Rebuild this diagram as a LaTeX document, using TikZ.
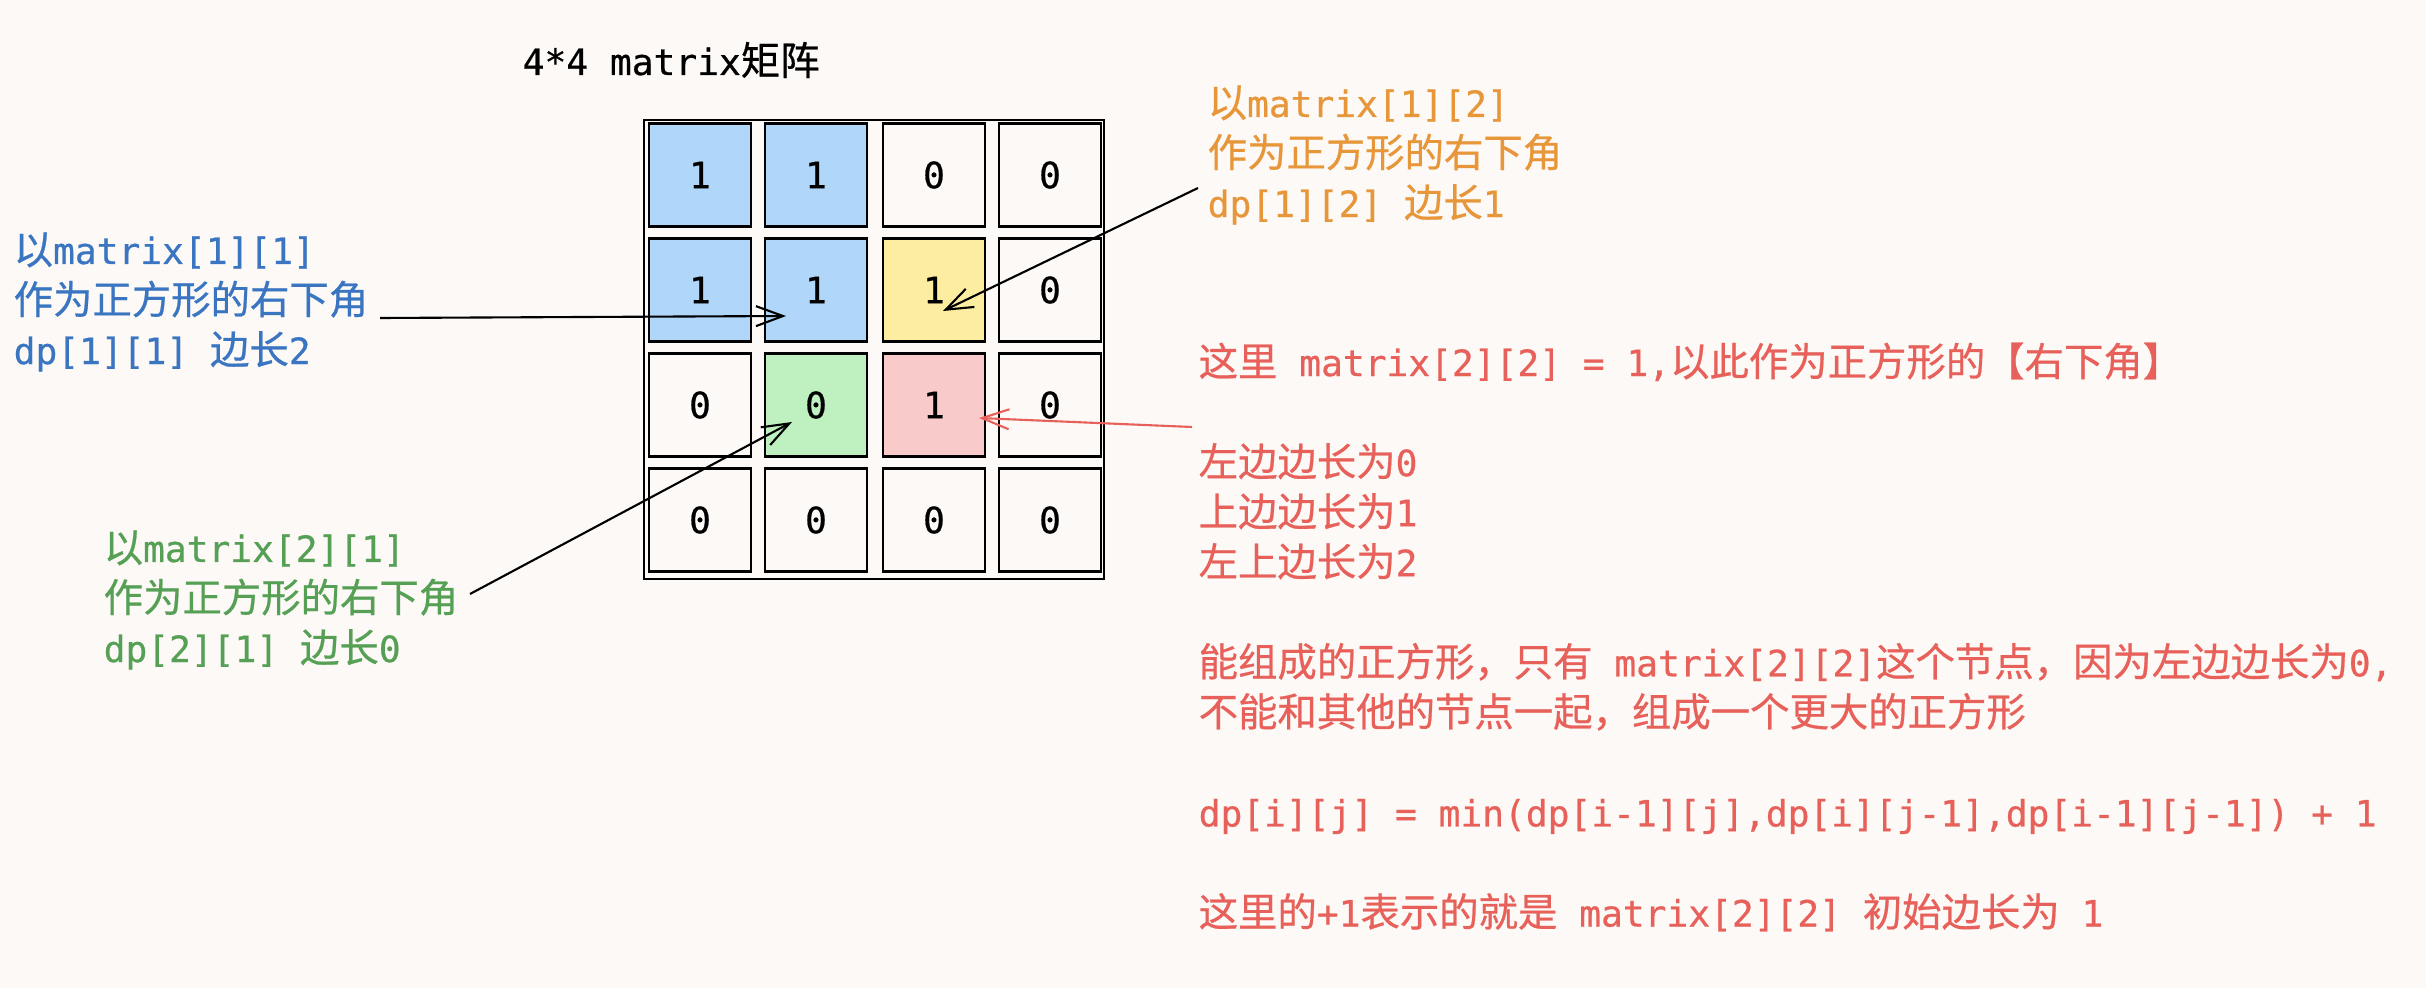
\documentclass[tikz,border=0pt]{standalone}
\usepackage{fontspec}
\setmainfont[FakeBold=0.6]{Noto Sans CJK SC}
\setmonofont[Scale=0.92,FakeBold=0.6]{DejaVu Sans Mono}
\usepackage{tikz}
\usetikzlibrary{arrows.meta}

\definecolor{paper}{RGB}{252,249,246}
\definecolor{cellblue}{RGB}{176,214,250}
\definecolor{cellyellow}{RGB}{253,237,160}
\definecolor{cellgreen}{RGB}{190,240,192}
\definecolor{cellred}{RGB}{248,202,202}
\definecolor{noteblue}{RGB}{58,117,194}
\definecolor{notegreen}{RGB}{85,160,85}
\definecolor{noteorange}{RGB}{232,150,58}
\definecolor{notered}{RGB}{232,96,90}

\newcommand{\mono}[1]{\texttt{#1}}

\begin{document}
\begin{tikzpicture}[x=0.01cm,y=-0.01cm,
  >={Straight Barb[length=0.27cm,width=0.2cm]},
  every node/.style={font=\fontsize{11.2pt}{14.23pt}\selectfont},
  cell/.style={draw,line width=0.6pt,minimum width=1.02cm,minimum height=1.03cm,inner sep=0pt,
    font=\fontsize{11.2pt}{14.23pt}\selectfont\ttfamily},
  note/.style={anchor=west,align=left,inner sep=0pt},
  link/.style={->,line width=0.6pt}]
  \fill[paper] (0,0) rectangle (2426,988);

  \node[note] (title) at (522,60) {\mono{4*4 matrix}矩阵};
  \node[draw,line width=0.6pt,minimum width=4.6cm,minimum height=4.59cm,inner sep=0pt] (grid) at (874,349.5) {};

  % row 1
  \node[cell,fill=cellblue] (c11) at (700,175) {1};
  \node[cell,fill=cellblue] (c12) at (816,175) {1};
  \node[cell] (c13) at (934,175) {0};
  \node[cell] (c14) at (1050,175) {0};
  % row 2
  \node[cell,fill=cellblue] (c21) at (700,290) {1};
  \node[cell,fill=cellblue] (c22) at (816,290) {1};
  \node[cell,fill=cellyellow] (c23) at (934,290) {1};
  \node[cell] (c24) at (1050,290) {0};
  % row 3
  \node[cell] (c31) at (700,405) {0};
  \node[cell,fill=cellgreen] (c32) at (816,405) {0};
  \node[cell,fill=cellred] (c33) at (934,405) {1};
  \node[cell] (c34) at (1050,405) {0};
  % row 4
  \node[cell] (c41) at (700,520) {0};
  \node[cell] (c42) at (816,520) {0};
  \node[cell] (c43) at (934,520) {0};
  \node[cell] (c44) at (1050,520) {0};

  % notes
  \node[note,text=noteblue] (noteA) at (13,302) {以\mono{matrix[1][1]}\\作为正方形的右下角\\\mono{dp[1][1] }边长\mono{2}};
  \node[note,text=notegreen] (noteB) at (103,600) {以\mono{matrix[2][1]}\\作为正方形的右下角\\\mono{dp[2][1] }边长\mono{0}};
  \node[note,text=noteorange] (noteC) at (1207,155) {以\mono{matrix[1][2]}\\作为正方形的右下角\\\mono{dp[1][2] }边长\mono{1}};
  \node[note,text=notered] (noteD) at (1198,637) {这里\mono{ matrix[2][2] = 1,}以此作为正方形的【右下角】\\~\\
    左边边长为\mono{0}\\上边边长为\mono{1}\\左上边长为\mono{2}\\~\\
    能组成的正方形，只有\mono{ matrix[2][2]}这个节点，因为左边边长为\mono{0,}\\不能和其他的节点一起，组成一个更大的正方形\\~\\
    \mono{dp[i][j] = min(dp[i-1][j],dp[i][j-1],dp[i-1][j-1]) + 1}\\~\\
    这里的\mono{+1}表示的就是\mono{ matrix[2][2] }初始边长为\mono{ 1}};

  % arrow ends
  \coordinate (fromA) at (380,318);
  \coordinate (toA) at (786,316);
  \coordinate (fromB) at (470,594);
  \coordinate (toB) at (792,422);
  \coordinate (fromC) at (1198,188);
  \coordinate (toC) at (943,311);
  \coordinate (fromD) at (1192,427);
  \coordinate (toD) at (979,418);

  \draw[link] (fromA) to (toA);
  \draw[link] (fromB) to (toB);
  \draw[link] (fromC) to (toC);
  \draw[link,notered] (fromD) to (toD);
\end{tikzpicture}
\end{document}
